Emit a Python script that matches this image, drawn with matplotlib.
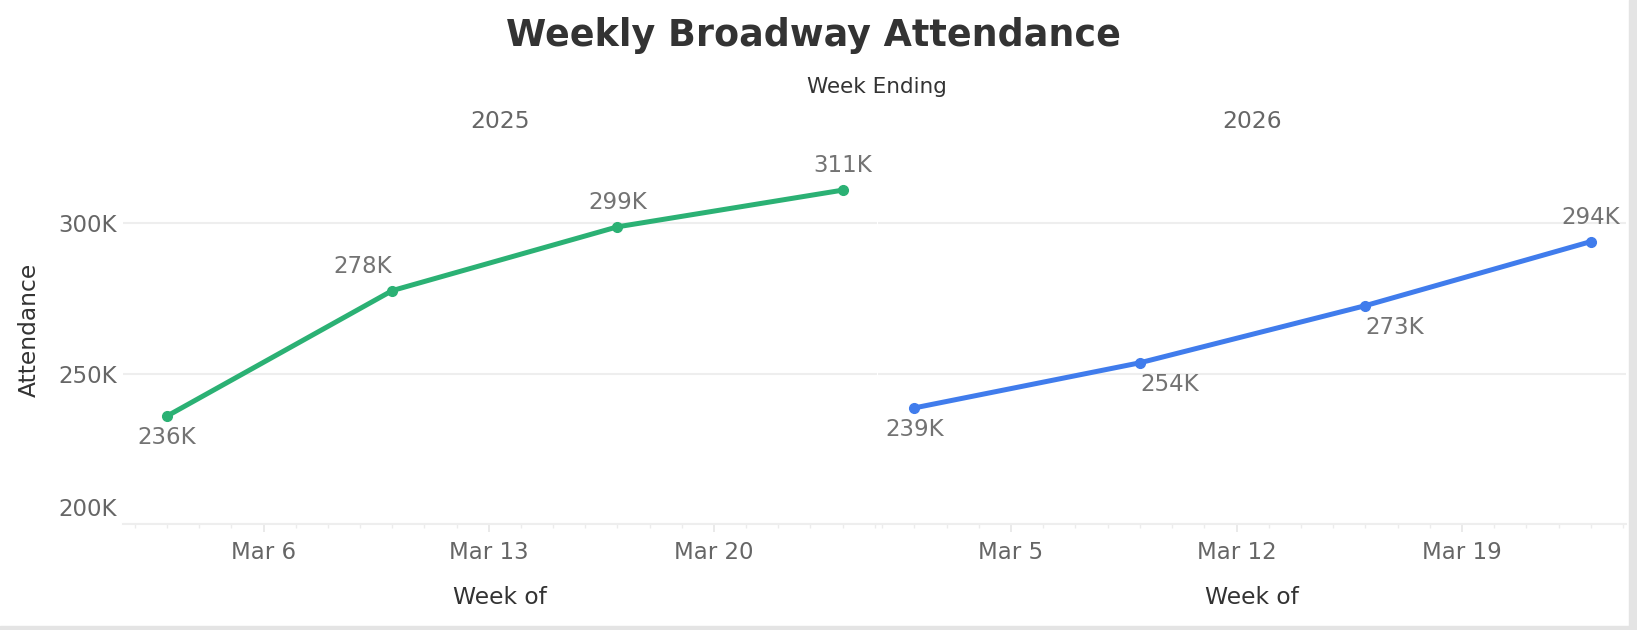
import datetime as dt
import matplotlib
matplotlib.use('Agg')
import matplotlib.pyplot as plt
import matplotlib.dates as mdates
from matplotlib.patches import Rectangle
from matplotlib.transforms import ScaledTranslation

# data
weeks_2025 = [dt.date(2025, 3, 3), dt.date(2025, 3, 10), dt.date(2025, 3, 17), dt.date(2025, 3, 24)]
attend_2025 = [235900, 277600, 298800, 311000]
weeks_2026 = [dt.date(2026, 3, 2), dt.date(2026, 3, 9), dt.date(2026, 3, 16), dt.date(2026, 3, 23)]
attend_2026 = [238600, 253600, 272600, 293900]
years = ['2025', '2026']
y_ticks = [200000, 250000, 300000]

# label placement per point
pos_2025 = ['bottom', 'top left', 'top', 'top']
pos_2026 = ['bottom', 'bottom right', 'bottom right', 'top']

plt.rcParams['font.family'] = 'DejaVu Sans'

fig = plt.figure(figsize=(16.37, 6.30), dpi=100)
W, H = 1637, 630
ax1 = fig.add_axes([123 / W, 106 / H, 754 / W, 391 / H])
ax2 = fig.add_axes([878 / W, 106 / H, 748 / W, 391 / H], sharey=ax1)

grid_c = '#eeeeee'
tick_c = '#666666'
lab_c = '#737373'
dark = '#333333'


def fmt_k(v):
    return f"{v / 1000:.0f}K"


def date_fmt(x, pos=None):
    d = mdates.num2date(x)
    return f"{d:%b} {d.day}"


def draw(ax, dates, vals, color, places, pad_left, pad_right):
    ax.plot(dates, vals, color=color, lw=3.6, marker='o', ms=7, zorder=3)
    for d, v, p in zip(dates, vals, places):
        if p.startswith('top'):
            dy = 17.5
        else:
            dy = -15.5
        ha = 'center'
        if p.endswith('left'):
            ha = 'right'
        elif p.endswith('right'):
            ha = 'left'
        ax.annotate(fmt_k(v), (d, v), xytext=(0, dy), textcoords='offset points',
                    ha=ha, va='center', fontsize=16.5, color=lab_c)
    x0 = mdates.date2num(dates[0]) - pad_left
    x1 = mdates.date2num(dates[-1]) + pad_right
    ax.set_xlim(x0, x1)
    ax.set_ylim(200000, 330000)
    ax.set_yticks(y_ticks)
    ax.grid(axis='y', color=grid_c, lw=1.5)
    ax.set_axisbelow(True)
    for s in ['left', 'right', 'top']:
        ax.spines[s].set_visible(False)
    ax.spines['bottom'].set_color(grid_c)
    ax.spines['bottom'].set_linewidth(1.5)
    ax.xaxis.set_major_locator(mdates.WeekdayLocator(byweekday=mdates.TH))
    ax.xaxis.set_minor_locator(mdates.DayLocator())
    ax.xaxis.set_major_formatter(plt.FuncFormatter(date_fmt))
    ax.tick_params(axis='x', which='major', length=6, width=1.2, color='#e6e6e6',
                   labelsize=16.5, labelcolor=tick_c, pad=6)
    ax.tick_params(axis='x', which='minor', length=3, width=1.0, color='#ececec')


draw(ax1, weeks_2025, attend_2025, '#2bb174', pos_2025, 1.37, 1.07)
draw(ax2, weeks_2026, attend_2026, '#407cec', pos_2026, 1.13, 1.09)

ax1.yaxis.set_major_formatter(plt.FuncFormatter(lambda v, p: fmt_k(v)))
ax1.tick_params(axis='y', length=0, pad=4.5, labelsize=16.5, labelcolor=tick_c)
ax2.tick_params(axis='y', length=0, labelleft=False)

# lift the bottom y label off the axis line
fig.canvas.draw()
lbl = ax1.get_yticklabels()[0]
lbl.set_transform(lbl.get_transform() + ScaledTranslation(0, 0.17, fig.dpi_scale_trans))

# texts
fig.text(813 / W, 1 - 35 / H, 'Weekly Broadway Attendance', ha='center', va='center',
         fontsize=26.3, fontweight='bold', color=dark)
fig.text(877 / W, 1 - 87 / H, 'Week Ending', ha='center', va='center', fontsize=15.5, color=dark)
for ax, yr in zip([ax1, ax2], years):
    bb = ax.get_position()
    fig.text((bb.x0 + bb.x1) / 2, 1 - 122 / H, yr, ha='center', va='center',
             fontsize=16.8, color=tick_c)
    fig.text((bb.x0 + bb.x1) / 2, 1 - 598 / H, 'Week of', ha='center', va='center',
             fontsize=16.8, color=dark)
fig.text(29 / W, 1 - 330 / H, 'Attendance', ha='center', va='center', rotation=90,
         fontsize=16.8, color=dark)

# frame strips at right and bottom
fig.patches.append(Rectangle((1629 / W, 0), 8 / W, 1, transform=fig.transFigure,
                             color='#e4e4e4', zorder=0))
fig.patches.append(Rectangle((0, 0), 1, 4 / H, transform=fig.transFigure,
                             color='#e4e4e4', zorder=0))

fig.savefig('out.png', dpi=100)
